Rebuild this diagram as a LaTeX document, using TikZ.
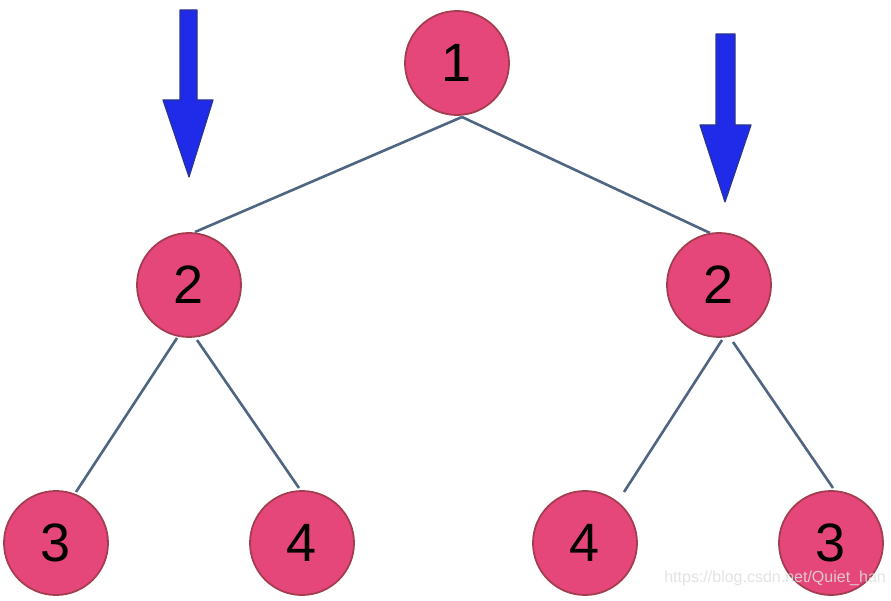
\documentclass[tikz,border=0pt]{standalone}
\usepackage{fontspec}
\setmainfont{Liberation Sans}
\begin{document}
\begin{tikzpicture}[x=1pt,y=1pt,
  tnode/.style={circle,minimum size=104pt,inner sep=0pt,fill=nodefill,draw=nodeline,line width=1.8pt,font=\fontsize{54}{60}\selectfont},
  edge/.style={draw=edgecol,line width=2.6pt},
  bluearrow/.style={fill=arrowfill,draw=arrowline,line width=1.2pt,line join=round}]
\definecolor{nodefill}{HTML}{E6477B}
\definecolor{nodeline}{HTML}{A63C50}
\definecolor{edgecol}{HTML}{4F6582}
\definecolor{arrowfill}{HTML}{1F2BE8}
\definecolor{arrowline}{HTML}{2A3590}
\useasboundingbox[fill=white] (0,0) rectangle (891,600);
% arrows
\fill[bluearrow] (180,590) -- (197,590) -- (197,500) -- (213,500) -- (189,423) -- (163,500) -- (180,500) -- cycle;
\fill[bluearrow] (716,566) -- (735,566) -- (735,475) -- (751,475) -- (725,398) -- (700,475) -- (716,475) -- cycle;
% nodes
\node[tnode] (n1) at (457,537) {1};
\node[tnode] (n2l) at (189,315) {2};
\node[tnode] (n2r) at (719,315) {2};
\node[tnode] (n3l) at (56,57) {3};
\node[tnode] (n4l) at (302,57) {4};
\node[tnode] (n4r) at (585,57) {4};
\node[tnode] (n3r) at (831,57) {3};
% edges
\draw[edge] ([shift={(5,-54)}]n1.center) -- ([shift={(6,53)}]n2l.center);
\draw[edge] ([shift={(5,-54)}]n1.center) -- ([shift={(-9,52)}]n2r.center);
\draw[edge] ([shift={(-12,-53)}]n2l.center) -- ([shift={(20,51)}]n3l.center);
\draw[edge] ([shift={(8,-55)}]n2l.center) -- ([shift={(-3,55)}]n4l.center);
\draw[edge] ([shift={(3,-55)}]n2r.center) -- ([shift={(39,51)}]n4r.center);
\draw[edge] ([shift={(14,-57)}]n2r.center) -- ([shift={(2,55)}]n3r.center);
% watermark
\node[anchor=east,text=white!75!gray,opacity=0.85,font=\fontsize{16}{19}\selectfont,inner sep=0pt] (wm) at (886,22) {https://blog.csdn.net/Quiet\_han};
\end{tikzpicture}
\end{document}
